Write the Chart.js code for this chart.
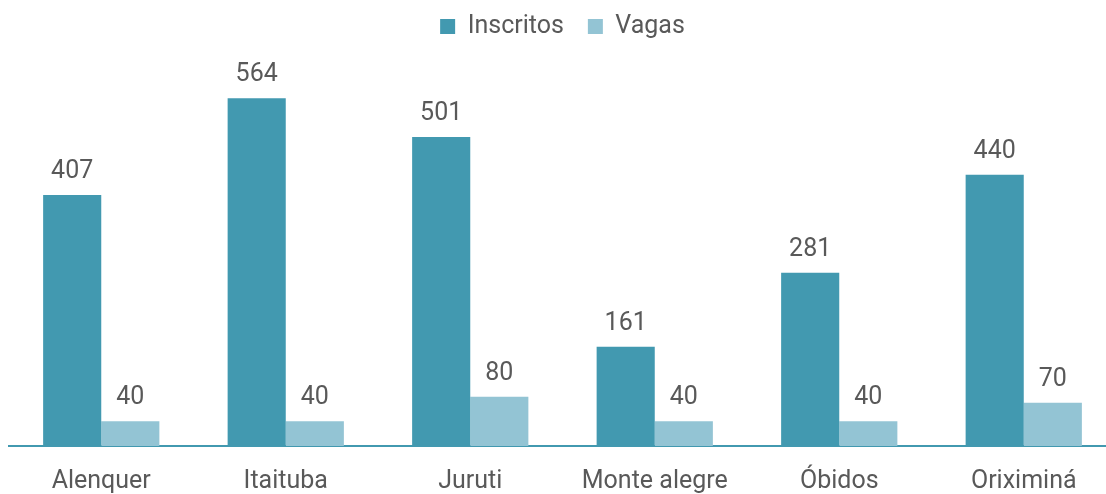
<!DOCTYPE html>
<html>
<head>
<meta charset="utf-8">
<script src="https://cdn.jsdelivr.net/npm/chart.js@4/dist/chart.umd.min.js"></script>
<style>
  html, body { margin: 0; padding: 0; background: #fff; overflow: hidden; }
  #wrap { width: 1116px; height: 518px; }
</style>
</head>
<body>
<div id="wrap"><canvas id="chart-inscritos"></canvas></div>
<script>
inscritosColor = '#4299b0'
vagasColor = '#93c4d4'
textColor = '#595959'

categorias = ['Alenquer', 'Itaituba', 'Juruti', 'Monte alegre', 'Óbidos', 'Oriximiná'];
inscritos = [407, 564, 501, 161, 281, 440];
vagas = [40, 40, 80, 40, 40, 70];

Chart.defaults.font.family = 'Roboto';
Chart.defaults.font.size = 25;
Chart.defaults.color = textColor;

// value labels above bars
const valueLabels = {
    id: 'valueLabels',
    afterDatasetsDraw(chart) {
        const ctx = chart.ctx;
        ctx.save();
        ctx.font = '25px Roboto';
        ctx.fillStyle = textColor;
        ctx.textAlign = 'center';
        ctx.textBaseline = 'alphabetic';
        chart.data.datasets.forEach((ds, i) => {
            chart.getDatasetMeta(i).data.forEach((bar, j) => {
                ctx.fillText(ds.data[j], bar.x, bar.y - 17);
            });
        });
        ctx.restore();
    },
};

// fixed legend height so the plot starts lower, legend nudged up
const legendHeight = {
    id: 'legendHeight',
    beforeInit(chart) {
        const fit = chart.legend.fit;
        chart.legend.fit = function () {
            fit.bind(this)();
            this.height = 76;
        };
    },
    afterLayout(chart) {
        chart.legend.top -= 10;
        chart.legend.bottom -= 10;
    },
};

var ctx1 = document.getElementById('chart-inscritos').getContext('2d');

new Chart(ctx1, {
    type: 'bar',
    data: {
        labels: categorias,
        datasets: [
            {
                label: 'Inscritos',
                data: inscritos,
                backgroundColor: inscritosColor,
                categoryPercentage: 0.63,
                barPercentage: 1,
            },
            {
                label: 'Vagas',
                data: vagas,
                backgroundColor: vagasColor,
                categoryPercentage: 0.63,
                barPercentage: 1,
            },
        ],
    },
    options: {
        responsive: true,
        maintainAspectRatio: false,
        animation: false,
        layout: {
            padding: { left: 9, right: 0, top: 0, bottom: 0 },
        },
        plugins: {
            legend: {
                display: true,
                position: 'top',
                labels: {
                    boxWidth: 15,
                    boxHeight: 15,
                    padding: 24,
                    color: textColor,
                    font: { size: 25 },
                },
            },
            tooltip: { enabled: false },
        },
        scales: {
            y: {
                display: false,
                min: 0,
                max: 600,
            },
            x: {
                grid: {
                    display: false,
                    drawTicks: false,
                },
                border: {
                    display: true,
                    color: inscritosColor,
                    width: 2,
                },
                ticks: {
                    padding: 21,
                    color: textColor,
                    font: { size: 25 },
                    maxRotation: 0,
                    autoSkip: false,
                },
            },
        },
    },
    plugins: [valueLabels, legendHeight],
});
</script>
</body>
</html>
